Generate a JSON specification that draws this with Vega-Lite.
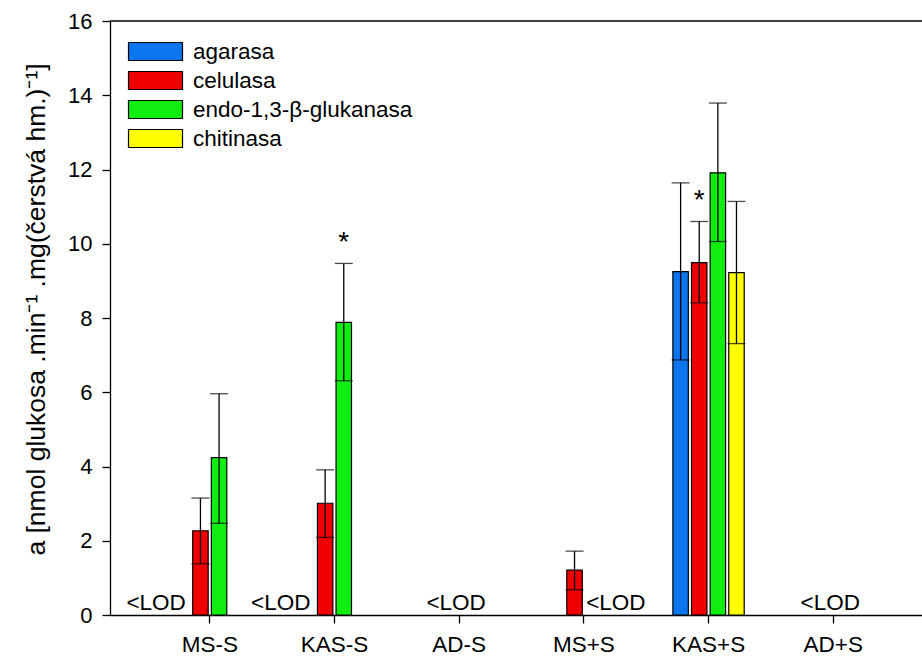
{
  "$schema": "https://vega.github.io/schema/vega-lite/v6.json",
  "autosize": {"type": "none"},
  "width": 812,
  "height": 594,
  "padding": {"left": 110, "top": 21, "right": 0, "bottom": 44},
  "background": "white",
  "config": {
    "view": {"stroke": null},
    "font": "Liberation Sans",
    "axis": {
      "domainColor": "black", "domainWidth": 1.3, "tickColor": "black", "tickWidth": 1.3,
      "tickSize": 8, "labelColor": "black", "titleColor": "black", "grid": false,
      "labelFont": "Liberation Sans", "titleFont": "Liberation Sans", "titleFontWeight": "normal"
    },
    "legend": {"labelFont": "Liberation Sans"}
  },
  "datasets": {
    "bars": [
      {"group": "MS-S", "enzyme": "celulasa", "value": 2.27, "lo": 1.38, "hi": 3.15, "sig": ""},
      {"group": "MS-S", "enzyme": "endo-1,3-β-glukanasa", "value": 4.24, "lo": 2.47, "hi": 5.96, "sig": ""},
      {"group": "KAS-S", "enzyme": "celulasa", "value": 3.01, "lo": 2.09, "hi": 3.91, "sig": ""},
      {"group": "KAS-S", "enzyme": "endo-1,3-β-glukanasa", "value": 7.88, "lo": 6.31, "hi": 9.47, "sig": "*"},
      {"group": "MS+S", "enzyme": "celulasa", "value": 1.21, "lo": 0.68, "hi": 1.72, "sig": ""},
      {"group": "KAS+S", "enzyme": "agarasa", "value": 9.25, "lo": 6.87, "hi": 11.64, "sig": ""},
      {"group": "KAS+S", "enzyme": "celulasa", "value": 9.49, "lo": 8.41, "hi": 10.6, "sig": "*"},
      {"group": "KAS+S", "enzyme": "endo-1,3-β-glukanasa", "value": 11.91, "lo": 10.06, "hi": 13.79, "sig": ""},
      {"group": "KAS+S", "enzyme": "chitinasa", "value": 9.22, "lo": 7.31, "hi": 11.14, "sig": ""}
    ],
    "lodLeft": [
      {"group": "MS-S", "enzyme": "agarasa", "label": "<LOD"},
      {"group": "KAS-S", "enzyme": "agarasa", "label": "<LOD"}
    ],
    "lodRight": [
      {"group": "MS+S", "enzyme": "endo-1,3-β-glukanasa", "label": "<LOD"}
    ],
    "lodCenter": [
      {"group": "AD-S", "label": "<LOD"},
      {"group": "AD+S", "label": "<LOD"}
    ]
  },
  "layer": [
    {
      "data": {"name": "bars"},
      "mark": {"type": "bar", "stroke": "black", "strokeWidth": 1.2},
      "encoding": {
        "x": {
          "field": "group", "type": "nominal",
          "scale": {"domain": ["MS-S", "KAS-S", "AD-S", "MS+S", "KAS+S", "AD+S"], "range": [0, 823], "paddingInner": 0.428, "paddingOuter": 0.514},
          "axis": {"title": null, "labelAngle": 0, "labelFontSize": 22.5, "labelPadding": 10}
        },
        "xOffset": {
          "field": "enzyme", "type": "nominal",
          "scale": {"domain": ["agarasa", "celulasa", "endo-1,3-β-glukanasa", "chitinasa"], "paddingInner": 0.17, "paddingOuter": 0}
        },
        "y": {
          "field": "value", "type": "quantitative",
          "scale": {"domain": [0, 16], "nice": false},
          "axis": {"values": [0, 2, 4, 6, 8, 10, 12, 14, 16], "labelFontSize": 22, "labelPadding": 10,
                   "title": "a [nmol glukosa .min⁻¹ .mg(čerstvá hm.)⁻¹]", "titleFontSize": 26.5, "titlePadding": 17, "titleY": 288}
        },
        "color": {
          "field": "enzyme", "type": "nominal",
          "scale": {"domain": ["agarasa", "celulasa", "endo-1,3-β-glukanasa", "chitinasa"], "range": ["#0b76ee", "#f00000", "#10ee10", "#ffff00"]},
          "legend": {
            "title": null, "orient": "none", "legendX": 31, "legendY": 16,
            "symbolType": "M-2,-0.667H2V0.667H-2Z", "symbolSize": 729, "symbolStrokeColor": "black", "symbolStrokeWidth": 1.2,
            "symbolOpacity": 1, "labelFontSize": 22.5, "labelColor": "black", "labelOffset": 23, "labelLimit": 0, "rowPadding": 3
          }
        }
      }
    },
    {
      "data": {"name": "bars"},
      "mark": {"type": "rule", "color": "black", "strokeWidth": 1.3},
      "encoding": {
        "x": {"field": "group", "type": "nominal"},
        "xOffset": {"field": "enzyme", "type": "nominal"},
        "y": {"field": "lo", "type": "quantitative"},
        "y2": {"field": "hi"}
      }
    },
    {
      "data": {"name": "bars"},
      "mark": {"type": "tick", "color": "black", "thickness": 1.3, "size": 18, "orient": "horizontal"},
      "encoding": {
        "x": {"field": "group", "type": "nominal"},
        "xOffset": {"field": "enzyme", "type": "nominal"},
        "y": {"field": "lo", "type": "quantitative"}
      }
    },
    {
      "data": {"name": "bars"},
      "mark": {"type": "tick", "color": "black", "thickness": 1.3, "size": 18, "orient": "horizontal"},
      "encoding": {
        "x": {"field": "group", "type": "nominal"},
        "xOffset": {"field": "enzyme", "type": "nominal"},
        "y": {"field": "hi", "type": "quantitative"}
      }
    },
    {
      "data": {"name": "bars"},
      "mark": {"type": "text", "fontSize": 28, "baseline": "alphabetic", "dy": -12, "color": "black"},
      "encoding": {
        "x": {"field": "group", "type": "nominal"},
        "xOffset": {"field": "enzyme", "type": "nominal"},
        "y": {"field": "hi", "type": "quantitative"},
        "text": {"field": "sig"}
      }
    },
    {
      "data": {"name": "lodLeft"},
      "mark": {"type": "text", "fontSize": 22.5, "align": "right", "baseline": "alphabetic", "dx": 4, "dy": -5, "color": "black"},
      "encoding": {
        "x": {"field": "group", "type": "nominal"},
        "xOffset": {"field": "enzyme", "type": "nominal"},
        "y": {"datum": 0},
        "text": {"field": "label"}
      }
    },
    {
      "data": {"name": "lodRight"},
      "mark": {"type": "text", "fontSize": 22.5, "align": "left", "baseline": "alphabetic", "dx": -7, "dy": -5, "color": "black"},
      "encoding": {
        "x": {"field": "group", "type": "nominal"},
        "xOffset": {"field": "enzyme", "type": "nominal"},
        "y": {"datum": 0},
        "text": {"field": "label"}
      }
    },
    {
      "data": {"name": "lodCenter"},
      "mark": {"type": "text", "fontSize": 22.5, "align": "center", "baseline": "alphabetic", "dx": -3, "dy": -5, "color": "black"},
      "encoding": {
        "x": {"field": "group", "type": "nominal"},
        "y": {"datum": 0},
        "text": {"field": "label"}
      }
    },
    {
      "data": {"values": [{}]},
      "mark": {"type": "rule", "color": "black", "strokeWidth": 1.3},
      "encoding": {"y": {"datum": 16}}
    }
  ]
}
